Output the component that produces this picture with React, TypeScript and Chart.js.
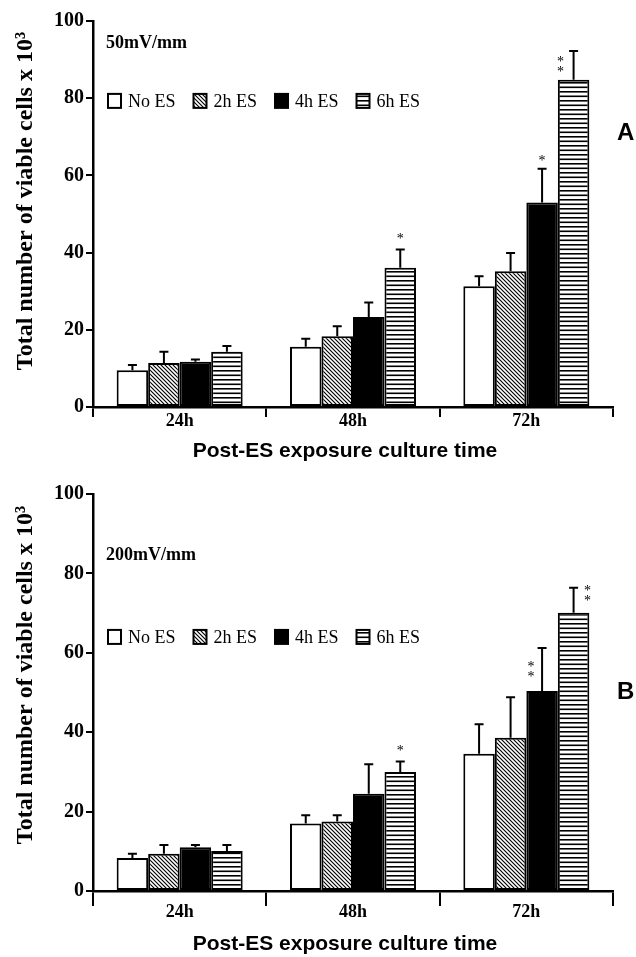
import React, { useEffect, useRef } from "react";
import { Chart, registerables } from "chart.js";

Chart.register(...registerables);

// ---------- data ----------
const categories = ["24h", "48h", "72h"];
const seriesLabels = ["No ES", "2h ES", "4h ES", "6h ES"];
const yTicks = [0, 20, 40, 60, 80, 100];

// Panel A : 50 mV/mm
const aNoES = [9.5, 15.6, 31.3];
const a2h = [11.4, 18.3, 35.2];
const a4h = [11.7, 23.3, 53.0];
const a6h = [14.3, 36.1, 84.8];
const aNoESErr = [1.4, 2.1, 2.6];
const a2hErr = [2.9, 2.6, 4.7];
const a4hErr = [0.6, 3.8, 8.7];
const a6hErr = [1.5, 4.7, 7.4];
const aSig4h = ["", "", "*"];
const aSig6h = ["", "*", "**"];

// Panel B : 200 mV/mm
const bNoES = [8.3, 17.0, 34.6];
const b2h = [9.4, 17.5, 38.6];
const b4h = [11.0, 24.5, 50.4];
const b6h = [10.1, 30.0, 70.1];
const bNoESErr = [1.1, 2.1, 7.4];
const b2hErr = [2.2, 1.6, 10.2];
const b4hErr = [0.6, 7.4, 10.8];
const b6hErr = [1.5, 2.6, 6.3];
const bSig4h = ["", "", "**"];
const bSig6h = ["", "*", "**"];

const yTitle = "Total number of viable cells x 10\u00B3";
const xTitle = "Post-ES exposure culture time";

const SERIF = "'Liberation Serif', 'DejaVu Serif', serif";
const SANS = "'Liberation Sans', Arial, sans-serif";

// ---------- patterns ----------
function makeDiag(): CanvasPattern | string {
  const c = document.createElement("canvas");
  c.width = 4;
  c.height = 4;
  const g = c.getContext("2d");
  if (!g) return "#888";
  g.fillStyle = "#fff";
  g.fillRect(0, 0, 4, 4);
  g.strokeStyle = "#000";
  g.lineWidth = 1.15;
  g.beginPath();
  g.moveTo(-1, -1);
  g.lineTo(5, 5);
  g.moveTo(3, -1);
  g.lineTo(5, 1);
  g.moveTo(-1, 3);
  g.lineTo(1, 5);
  g.stroke();
  return g.createPattern(c, "repeat") || "#888";
}

function makeHoriz(): CanvasPattern | string {
  const c = document.createElement("canvas");
  c.width = 4;
  c.height = 9;
  const g = c.getContext("2d");
  if (!g) return "#888";
  g.fillStyle = "#fff";
  g.fillRect(0, 0, 4, 9);
  g.fillStyle = "#000";
  g.fillRect(0, 1, 4, 1.6);
  g.fillRect(0, 5.5, 4, 1.6);
  return g.createPattern(c, "repeat") || "#888";
}

// ---------- plugin ----------
type StarSpec = { ds: number; cat: number; dx: number; dy: number };
type AnnotOpts = {
  condition: string;
  conditionValue: number;
  legendValue: number;
  letter: string;
  letterValue: number;
  yTitleOffset: number;
  xTitleOffset: number;
  errors: number[][];
  sig: string[][];
  stars: StarSpec[];
};

const annotPlugin = {
  id: "annot",
  afterDatasetsDraw(chart: any, _args: any, opts: AnnotOpts) {
    const ctx: CanvasRenderingContext2D = chart.ctx;
    const y = chart.scales.y;
    ctx.save();
    // error bars (upper only)
    chart.data.datasets.forEach((ds: any, i: number) => {
      const meta = chart.getDatasetMeta(i);
      meta.data.forEach((bar: any, j: number) => {
        const v = ds.data[j];
        const e = opts.errors[i][j];
        const top = y.getPixelForValue(v + e);
        ctx.strokeStyle = "#000";
        ctx.lineWidth = 2;
        ctx.beginPath();
        ctx.moveTo(bar.x, bar.y);
        ctx.lineTo(bar.x, top);
        ctx.moveTo(bar.x - 4.5, top);
        ctx.lineTo(bar.x + 4.5, top);
        ctx.stroke();
      });
    });
    // significance stars
    ctx.fillStyle = "#000";
    ctx.font = `14px ${SERIF}`;
    ctx.textAlign = "center";
    ctx.textBaseline = "middle";
    opts.stars.forEach((s) => {
      const txt = opts.sig[s.ds][s.cat];
      if (!txt) return;
      const bar = chart.getDatasetMeta(s.ds).data[s.cat];
      const v = chart.data.datasets[s.ds].data[s.cat];
      const top = y.getPixelForValue(v + opts.errors[s.ds][s.cat]);
      for (let k = 0; k < txt.length; k++) {
        const cy = top + s.dy + (txt.length > 1 ? k * 10 : 0);
        ctx.fillText("*", bar.x + s.dx, cy + 3);
      }
    });
    ctx.restore();
  },
  afterDraw(chart: any, _args: any, opts: AnnotOpts) {
    const ctx: CanvasRenderingContext2D = chart.ctx;
    const y = chart.scales.y;
    const area = chart.chartArea;
    ctx.save();
    ctx.fillStyle = "#000";

    // y title
    ctx.save();
    ctx.translate(32, area.top + opts.yTitleOffset);
    ctx.rotate(-Math.PI / 2);
    ctx.font = `bold 24px ${SERIF}`;
    ctx.textAlign = "center";
    ctx.textBaseline = "alphabetic";
    ctx.fillText(yTitle, 0, 0);
    ctx.restore();

    // x title
    ctx.font = `bold 21px ${SANS}`;
    ctx.textAlign = "center";
    ctx.textBaseline = "alphabetic";
    ctx.fillText(xTitle, 345, area.bottom + opts.xTitleOffset);

    // condition label
    ctx.font = `bold 18px ${SERIF}`;
    ctx.textAlign = "left";
    ctx.fillText(opts.condition, area.left + 13, y.getPixelForValue(opts.conditionValue));

    // panel letter
    ctx.font = `bold 24px ${SANS}`;
    ctx.textBaseline = "middle";
    ctx.fillText(opts.letter, 617, y.getPixelForValue(opts.letterValue));

    // legend
    const yc = y.getPixelForValue(opts.legendValue);
    let x = area.left + 15;
    ctx.font = `18px ${SERIF}`;
    chart.data.datasets.forEach((ds: any) => {
      ctx.fillStyle = ds.backgroundColor;
      ctx.fillRect(x, yc - 7, 13, 14);
      ctx.strokeStyle = "#000";
      ctx.lineWidth = 2;
      ctx.strokeRect(x, yc - 7, 13, 14);
      ctx.fillStyle = "#000";
      ctx.textBaseline = "middle";
      ctx.textAlign = "left";
      ctx.fillText(ds.label, x + 20, yc + 1);
      x += 20 + ctx.measureText(ds.label).width + 18;
    });
    ctx.restore();
  },
};

// ---------- chart component ----------
type PanelDef = {
  height: number;
  padTop: number;
  xAxisHeight: number;
  xTickLength: number;
  xTickPadding: number;
  values: number[][];
  annot: AnnotOpts;
};

function PanelChart({ def }: { def: PanelDef }) {
  const ref = useRef<HTMLCanvasElement>(null);
  useEffect(() => {
    if (!ref.current) return;
    const fills = ["#ffffff", makeDiag(), "#000000", makeHoriz()];
    const chart = new Chart(ref.current, {
      type: "bar",
      data: {
        labels: categories,
        datasets: seriesLabels.map((label, i) => ({
          label,
          data: def.values[i],
          backgroundColor: fills[i] as any,
          borderColor: "#000",
          borderWidth: 2,
          borderSkipped: false,
          categoryPercentage: 0.727,
          barPercentage: 1,
        })),
      },
      options: {
        animation: false,
        responsive: false,
        devicePixelRatio: 1,
        events: [],
        layout: { padding: { top: def.padTop, right: 23, left: 0, bottom: 0 } },
        scales: {
          x: {
            type: "category",
            offset: true,
            grid: {
              offset: true,
              drawOnChartArea: false,
              drawTicks: true,
              tickLength: def.xTickLength,
              color: "#000",
              lineWidth: 2,
            },
            border: { display: true, color: "#000", width: 2.5 },
            ticks: {
              color: "#000",
              font: { family: SERIF, size: 18, weight: "bold" },
              padding: def.xTickPadding,
              maxRotation: 0,
            },
            afterFit: (s: any) => {
              s.height = def.xAxisHeight;
            },
          },
          y: {
            min: 0,
            max: 100,
            afterBuildTicks: (s: any) => {
              s.ticks = yTicks.map((v) => ({ value: v }));
            },
            grid: {
              drawOnChartArea: false,
              drawTicks: true,
              tickLength: 7,
              color: "#000",
              lineWidth: 2,
            },
            border: { display: true, color: "#000", width: 2.5 },
            ticks: {
              color: "#000",
              font: { family: SERIF, size: 20, weight: "bold" },
              padding: 2,
            },
            afterFit: (s: any) => {
              s.width = 93;
            },
          },
        },
        plugins: {
          legend: { display: false },
          tooltip: { enabled: false },
          title: { display: false },
          annot: def.annot,
        } as any,
      },
      plugins: [annotPlugin as any],
    });
    return () => chart.destroy();
  }, []);
  return (
    <canvas
      ref={ref}
      width={636}
      height={def.height}
      style={{ display: "block", width: 636, height: def.height }}
    />
  );
}

const panelA: PanelDef = {
  height: 478,
  padTop: 21,
  xAxisHeight: 71,
  xTickLength: 10,
  xTickPadding: -6,
  values: [aNoES, a2h, a4h, a6h],
  annot: {
    condition: "50mV/mm",
    conditionValue: 93,
    legendValue: 79.3,
    letter: "A",
    letterValue: 71,
    yTitleOffset: 180,
    xTitleOffset: 50,
    errors: [aNoESErr, a2hErr, a4hErr, a6hErr],
    sig: [["", "", ""], ["", "", ""], aSig4h, aSig6h],
    stars: [
      { ds: 3, cat: 1, dx: 0, dy: -13 },
      { ds: 2, cat: 2, dx: 0, dy: -11 },
      { ds: 3, cat: 2, dx: -13, dy: 8 },
    ],
  },
};

const panelB: PanelDef = {
  height: 479,
  padTop: 16,
  xAxisHeight: 66,
  xTickLength: 15,
  xTickPadding: -4,
  values: [bNoES, b2h, b4h, b6h],
  annot: {
    condition: "200mV/mm",
    conditionValue: 83.4,
    legendValue: 64,
    letter: "B",
    letterValue: 50,
    yTitleOffset: 181,
    xTitleOffset: 59,
    errors: [bNoESErr, b2hErr, b4hErr, b6hErr],
    sig: [["", "", ""], ["", "", ""], bSig4h, bSig6h],
    stars: [
      { ds: 3, cat: 1, dx: 0, dy: -13 },
      { ds: 2, cat: 2, dx: -11, dy: 16 },
      { ds: 3, cat: 2, dx: 14, dy: 1 },
    ],
  },
};

export default function App() {
  return (
    <div
      style={{
        position: "absolute",
        left: 0,
        top: 0,
        width: 636,
        height: 957,
        background: "#fff",
      }}
    >
      <PanelChart def={panelA} />
      <PanelChart def={panelB} />
    </div>
  );
}
